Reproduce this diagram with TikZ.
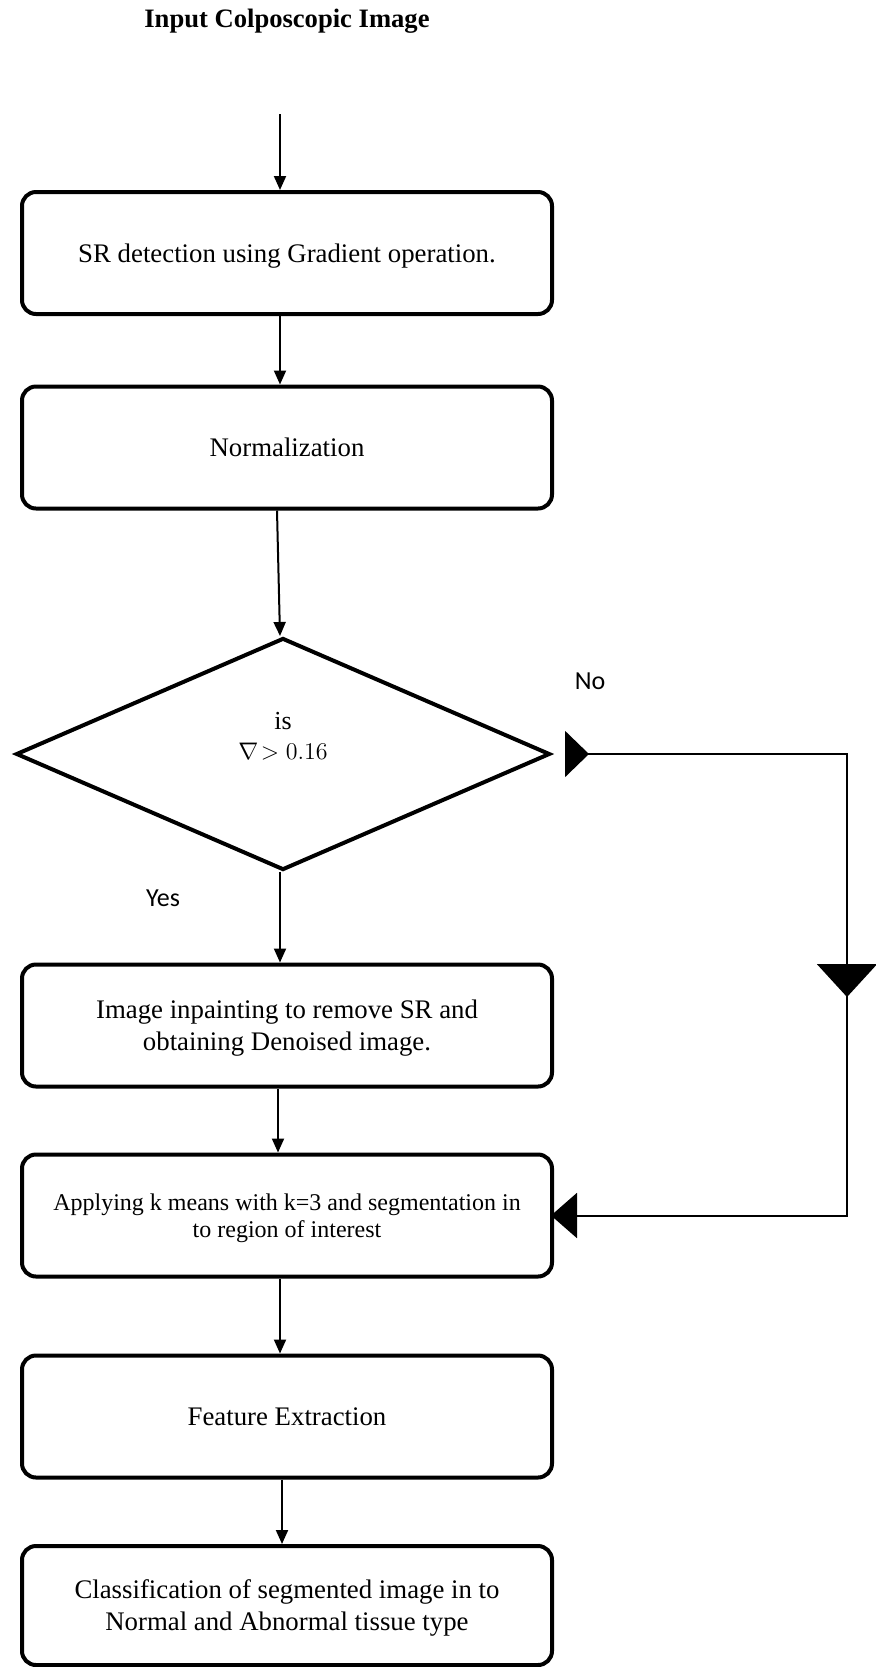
\documentclass[tikz,border=0pt]{standalone}
\usepackage{fontspec}
\setmainfont{Liberation Serif}
\newfontfamily\labelfont{Carlito}
\usetikzlibrary{arrows.meta, shapes.geometric, positioning, decorations.markings}

\begin{document}
\begin{tikzpicture}[
    x=0.5pt, y=-0.5pt,
    proc/.style={draw, line width=2pt, rounded corners=7pt, minimum width=265pt, minimum height=61pt, align=center, inner sep=2pt, text depth=0pt, font=\fontsize{13.4}{16}\selectfont},
    decision/.style={draw, diamond, line width=2pt, minimum width=267pt, minimum height=116pt, aspect=2.3, inner sep=0pt},
    lbl/.style={font=\labelfont\fontsize{13}{15}\selectfont},
    arr/.style={-{Triangle[length=7pt,width=6pt]}, line width=1pt},
  ]
  \useasboundingbox (0,0) rectangle (876,1667);

  \node[font=\bfseries\fontsize{13.3}{15}\selectfont] (title) at (287,21) {Input Colposcopic Image};
  \coordinate (src) at (280,114);

  \node[proc] (b1) at (287,253) {SR detection using Gradient operation.};
  \node[proc] (b2) at (287,447.5) {Normalization};
  \node[decision] (dec) at (283,754) {};
  \node[align=center, font=\fontsize{13}{15}\selectfont] (cond) at ([yshift=9pt]dec.center) {is\\$\nabla\!> 0.16$};
  \node[proc] (b3) at (287,1025.5) {Image inpainting to remove SR and\\obtaining Denoised image.};
  \node[proc, font=\fontsize{12}{13.5}\selectfont] (b4) at (287,1215.5) {Applying k means with k=3 and segmentation in\\to region of interest};
  \node[proc] (b5) at (287,1416.5) {Feature Extraction};
  \node[proc, minimum height=59.5pt] (b6) at (287,1605.5) {Classification of segmented image in to\\Normal and Abnormal tissue type};

  \node[lbl] (no) at ([xshift=19pt,yshift=36.5pt]dec.east) {No};
  \node[lbl] (yes) at ([xshift=-60pt,yshift=-13pt]dec.south) {Yes};

  % main flow
  \draw[arr] (src) -- ([xshift=-3.5pt]b1.north);
  \draw[arr] ([xshift=-3.5pt]b1.south) -- ([xshift=-3.5pt]b2.north);
  \draw[arr] ([xshift=-5pt]b2.south) -- ([xshift=-1.5pt]dec.north);
  \draw[arr] ([xshift=-1.5pt]dec.south) -- ([xshift=-3.5pt]b3.north);
  \draw[arr] ([xshift=-4.5pt]b3.south) -- ([xshift=-4.5pt]b4.north);
  \draw[arr] ([xshift=-3.5pt]b4.south) -- ([xshift=-3.5pt]b5.north);
  \draw[arr] ([xshift=-2.5pt]b5.south) -- ([xshift=-2.5pt]b6.north);

  % no branch
  \coordinate (turn) at (847,754);
  \draw[line width=1pt, -{Triangle[length=13pt,width=22.5pt]}, shorten >=-1.5pt,
    postaction={decorate, decoration={markings,
      mark=at position 12pt with {\arrow{Triangle[length=12pt,width=23pt]}},
      mark=at position 262.5pt with {\arrow{Triangle[length=16.5pt,width=30pt]}}}}]
    ([xshift=6.5pt]dec.east) -- (turn) |- (b4.east);
\end{tikzpicture}
\end{document}
